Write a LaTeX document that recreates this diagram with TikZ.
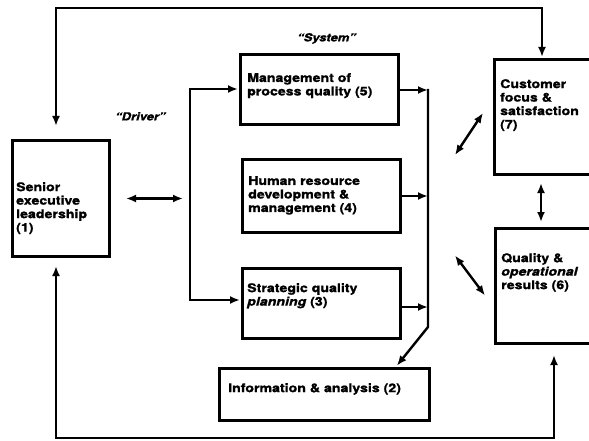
\documentclass[tikz,border=0pt]{standalone}
\usepackage{fontspec}
\setmainfont{TeX Gyre Heros}[FakeStretch=1.18,FakeBold=1.3]
\usetikzlibrary{arrows.meta,calc}

\begin{document}
\begin{tikzpicture}[x=1pt,y=-1pt,
  box/.style={draw,line width=3pt,inner sep=0pt,outer sep=0pt,anchor=north west},
  lbl/.style={anchor=north west,inner sep=0pt,align=left,
    font=\fontsize{12}{13.5}\selectfont\bfseries},
  conn/.style={line width=2.4pt},
  tip/.style={-{Latex[length=10pt,width=8pt]}},
  tips/.style={{Latex[length=10pt,width=8pt]}-{Latex[length=10pt,width=8pt]}},
]
\useasboundingbox (0,0) rectangle (589,441);
\fill[white] (0,0) rectangle (589,441);
\clip (0,0) rectangle (589,441);

% boxes
\node[box,minimum width=97pt,minimum height=115pt]  (senior) at (12,141) {};
\node[box,minimum width=158pt,minimum height=70pt]  (mgmt)   at (240,55) {};
\node[box,minimum width=158pt,minimum height=72pt]  (human)  at (242,160) {};
\node[box,minimum width=158pt,minimum height=70pt]  (strat)  at (242,268) {};
\node[box,minimum width=210pt,minimum height=52pt]  (info)   at (219,368) {};
\node[box,minimum width=110pt,minimum height=114pt] (cust)   at (494,60) {};
\node[box,minimum width=110pt,minimum height=115pt] (qual)   at (495,228) {};

% box texts
\node[lbl] (seniorT) at ($(senior.north west)+(4,41)$) {Senior\\executive\\leadership\\(1)};
\node[lbl] (mgmtT)   at ($(mgmt.north west)+(7,18)$) {Management of\\process quality (5)};
\node[lbl] (humanT)  at ($(human.north west)+(6,16)$) {Human resource\\development \&\\management (4)};
\node[lbl] (stratT)  at ($(strat.north west)+(5,15)$) {Strategic quality\\\textit{planning} (3)};
\node[lbl] (infoT)   at ($(info.north west)+(9,15)$) {Information \& analysis (2)};
\node[lbl] (custT)   at ($(cust.north west)+(6,19)$) {Customer\\focus \&\\satisfaction\\(7)};
\node[lbl] (qualT)   at ($(qual.north west)+(6,25)$) {Quality \&\\\textit{operational}\\results (6)};

% headings
\node[lbl,font=\fontsize{11}{13}\selectfont\bfseries\itshape] (sys) at (297,33) {“System”};
\node[lbl,font=\fontsize{11}{13}\selectfont\bfseries\itshape] (drv) at (115,112) {“Driver”};

% outer feedback loops
\coordinate (tl) at (56,8);   \coordinate (tr) at (542,8);
\coordinate (bl) at (56,438); \coordinate (br) at (554,438);
\draw[conn,tips,shorten <=15pt,shorten >=3pt]
  (senior.north -| tl) -- (tl) -- (tr) -- (cust.north -| tr);
\draw[conn,tips,shorten <=10pt,shorten >=12pt]
  (senior.south -| bl) -- (bl) -- (br) -- (qual.south -| br);

% driver to system
\coordinate (bt) at (190,89); \coordinate (bb) at (190,300);
\draw[conn,tips,shorten <=17pt,shorten >=7pt] (senior.east) -- (senior.east -| bt);
\draw[conn,tips,shorten <=2pt,shorten >=2pt]
  (bt -| mgmt.west) -- (bt) -- (bb) -- (bb -| strat.west);

% system collector line
\coordinate (rt) at (428,89); \coordinate (rb) at (428,327);
\coordinate (se) at ($(strat.east)+(0,4)$);
\draw[conn,tip,shorten >=3pt] (rt) -- (rb) -- ($(info.north west)+(176,0)$);
\draw[conn,tip] (mgmt.east) -- (mgmt.east -| rt);
\draw[conn,tip] (human.east) -- (human.east -| rt);
\draw[conn,tip] (se) -- (se -| rt);

% results links
\coordinate (vx) at (541,0);
\draw[conn,tips] ($(cust.west)+(-39,38)$) -- ($(cust.west)+(-11,-4)$);
\draw[conn,tips] ($(qual.west)+(-40,-30)$) -- ($(qual.west)+(-10,10)$);
\draw[conn,tips,shorten <=9pt,shorten >=6pt] (cust.south -| vx) -- (qual.north -| vx);
\end{tikzpicture}
\end{document}
